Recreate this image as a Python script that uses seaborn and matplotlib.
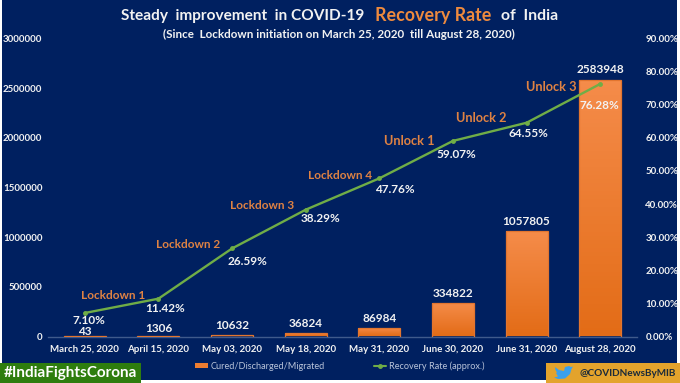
import pandas as pd
import numpy as np
import matplotlib
matplotlib.use('Agg')
import matplotlib.pyplot as plt
import seaborn as sns
from matplotlib.colors import LinearSegmentedColormap
from matplotlib.lines import Line2D
from matplotlib.patches import Patch, Rectangle, Polygon

# values
dates = ['March 25, 2020', 'April 15, 2020', 'May 03, 2020', 'May 18, 2020',
         'May 31, 2020', 'June 30, 2020', 'June 31, 2020', 'August 28, 2020']
cured = [43, 1306, 10632, 36824, 86984, 334822, 1057805, 2583948]
rate = [7.10, 11.42, 26.59, 38.29, 47.76, 59.07, 64.55, 76.28]
phases = ['Lockdown 1', 'Lockdown 2', 'Lockdown 3', 'Lockdown 4',
          'Unlock 1', 'Unlock 2', 'Unlock 3']
left_ticks = [0, 500000, 1000000, 1500000, 2000000, 2500000, 3000000]
right_ticks = [0, 10, 20, 30, 40, 50, 60, 70, 80, 90]

# label offsets in pixels
cured_off = [5, 8, 10, 9, 9, 10, 10, 10]
rate_off = [(4, -8), (7, -10), (15, -13), (15, -9), (16, -11), (3, -14), (2, -11), (-1, -22)]
phase_off = [(-45, 3), (-44, 4), (-44, 4), (-39, 3), (-44, 0), (-45, 5), (-49, -3)]

NAVY = '#002060'
ORANGE = '#ED7D31'
TITLE_ORANGE = '#EE8A3E'
LABEL_ORANGE = '#DF8243'
GREEN = '#70AD47'
WHITE = '#F2F2F2'

sns.set_theme(style='white')
plt.rcParams['font.family'] = ['Lato', 'DejaVu Sans']
plt.rcParams['font.weight'] = 'bold'

W, H = 680, 383
fig = plt.figure(figsize=(W / 100, H / 100), dpi=100, facecolor='white')
fig.patches.append(Rectangle((2 / W, 3 / H), 675 / W, 380 / H, transform=fig.transFigure,
                             facecolor=NAVY, edgecolor='none', zorder=-5))
ax = fig.add_axes([48 / W, (H - 336.5) / H, 589 / W, 298 / H])
ax.patch.set_alpha(0)

df = pd.DataFrame({'date': dates, 'cured': cured, 'rate': rate})
sns.barplot(data=df, x='date', y='cured', color=ORANGE, width=0.57, saturation=1, ax=ax)
ax.set_xlabel('')
ax.set_ylabel('')

# gradient fill on the bars, lighter at the top
cmap = LinearSegmentedColormap.from_list('bar', ['#F58C4A', '#E36C17'])
grad = np.linspace(0, 1, 64).reshape(-1, 1)
for p in ax.patches:
    x0, w, h = p.get_x(), p.get_width(), p.get_height()
    im = ax.imshow(grad, cmap=cmap, aspect='auto', origin='upper',
                   extent=(x0, x0 + w, 0, h), zorder=2)
    im.set_clip_path(p)
    p.set_facecolor('none')
    p.set_edgecolor('#E2752F')
    p.set_linewidth(0.9)
    p.set_zorder(3)
ax.set_ylim(0, 3000000)
ax.set_xlim(-0.5, 7.5)

ax.set_yticks(left_ticks)
ax.set_yticklabels([str(t) for t in left_ticks])
ax.tick_params(axis='y', length=0, labelsize=7, labelcolor=WHITE, pad=4)
ax.tick_params(axis='x', length=0, labelsize=7, labelcolor=WHITE, pad=6)
for s in ['top', 'left', 'right']:
    ax.spines[s].set_visible(False)
ax.spines['bottom'].set_color('#3F5A8C')
ax.spines['bottom'].set_linewidth(1)

ax2 = ax.twinx()
ax2.patch.set_alpha(0)
sns.lineplot(data=df, x='date', y='rate', sort=False, color=GREEN, linewidth=1.7,
             marker='o', markersize=3.5, markeredgewidth=0, ax=ax2, legend=False)
ax2.set_ylim(0, 90)
ax2.set_yticks(right_ticks)
ax2.set_yticklabels([f'{t:.2f}%' for t in right_ticks])
ax2.tick_params(axis='y', length=0, labelsize=7, labelcolor=WHITE, pad=6)
ax2.set_ylabel('')
ax2.set_xlabel('')
for s in ax2.spines.values():
    s.set_visible(False)

for i, v in enumerate(cured):
    ax.annotate(str(v), (i, v), xytext=(0, cured_off[i]), textcoords='offset pixels',
                ha='center', va='center', color=WHITE, fontsize=8.5, annotation_clip=False, zorder=6)
for i, v in enumerate(rate):
    ax2.annotate(f'{v:.2f}%', (i, v), xytext=rate_off[i], textcoords='offset pixels',
                 ha='center', va='center', color=WHITE, fontsize=8.5, zorder=6)
for i, name in enumerate(phases):
    ax2.annotate(name, (i + 1, rate[i + 1]), xytext=phase_off[i], textcoords='offset pixels',
                 ha='center', va='center', color=LABEL_ORANGE,
                 fontsize=8.5 if i < 4 else 9.2)

# title in pieces because of the larger orange part
fig.text(121 / W, 1 - 16 / H, 'Steady  improvement  in COVID-19', color=WHITE, fontsize=11.05, va='center')
fig.text(375 / W, 1 - 16 / H, 'Recovery Rate', color=TITLE_ORANGE, fontsize=12.9, va='center')
fig.text(501 / W, 1 - 16 / H, 'of  India', color=WHITE, fontsize=11.3, va='center')
fig.text(163 / W, 1 - 34.5 / H, '(Since  Lockdown initiation on March 25, 2020  till August 28, 2020)',
         color=WHITE, fontsize=8.4, va='center')

handles = [Patch(facecolor=ORANGE, edgecolor='none', label='Cured/Discharged/Migrated'),
           Line2D([0], [0], color=GREEN, lw=1.5, marker='o', ms=2.5, label='Recovery Rate (approx.)')]
leg = fig.legend(handles=handles, ncol=2, loc='center', bbox_to_anchor=(340 / W, 1 - 366 / H),
                 frameon=False, handlelength=1.4, handleheight=0.4, handletextpad=0.3,
                 columnspacing=5.3, borderpad=0, prop={'weight': 'normal', 'size': 6.6})
for t in leg.get_texts():
    t.set_color('#B9C4DA')

# corner badges
fig.patches.append(Rectangle((0, 0), 141 / W, 20 / H, transform=fig.transFigure,
                             facecolor='#2E7D0E', edgecolor='none', zorder=3))
fig.text(4 / W, 10 / H, '#IndiaFightsCorona', color='white', fontsize=11, va='center', zorder=4)
fig.patches.append(Rectangle((546 / W, 0), 134 / W, 20 / H, transform=fig.transFigure,
                             facecolor='#E3A32C', edgecolor='none', zorder=3))
fig.text(579 / W, 10 / H, '@COVIDNewsByMIB', color='#1A2A3A', fontsize=7.2, va='center', zorder=4)

# rough twitter bird
bird = [(555, 367), (559, 370), (564, 371), (565, 367), (569, 366), (571, 367), (573, 366.5),
        (571.5, 369), (570, 374), (565, 378.5), (558, 379), (554, 377.5), (558, 376.5),
        (556, 373), (557, 372.5), (555.5, 370)]
fig.patches.append(Polygon([(x / W, 1 - y / H) for x, y in bird], closed=True,
                           transform=fig.transFigure, facecolor='#3AA0EC', edgecolor='none', zorder=4))

plt.savefig('out.png', dpi=100, facecolor=fig.get_facecolor())
